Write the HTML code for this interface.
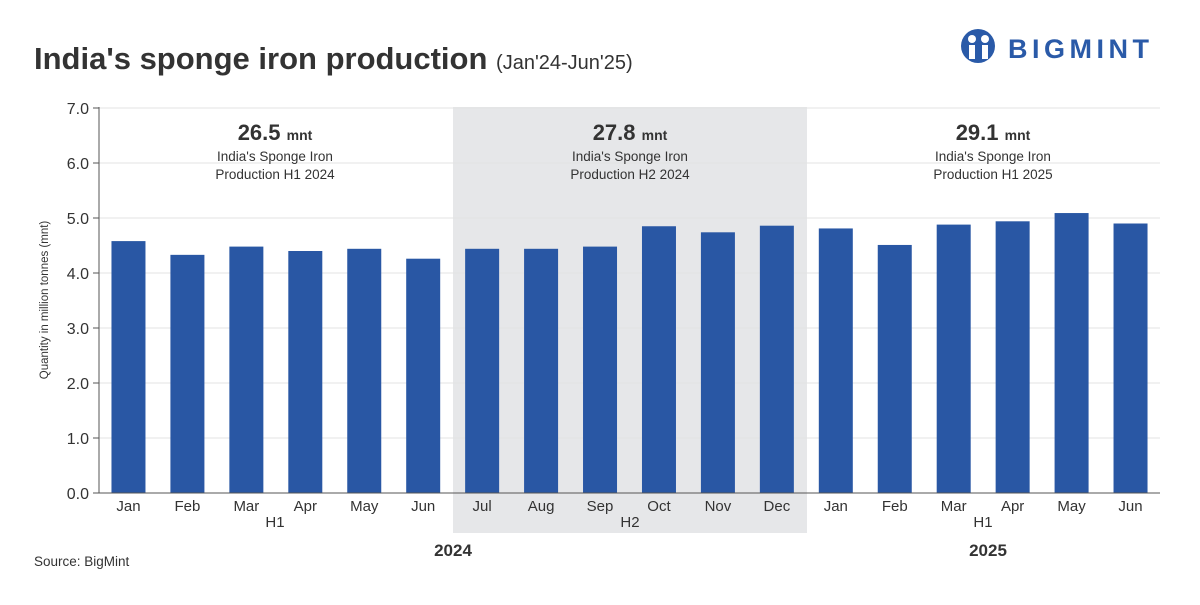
<!DOCTYPE html>
<html><head><meta charset="utf-8"><style>
body{margin:0;background:#fff;font-family:"Liberation Sans",sans-serif;}
svg text{font-family:"Liberation Sans",sans-serif;}
</style></head><body>
<svg width="1200" height="600" viewBox="0 0 1200 600">
<rect width="1200" height="600" fill="#fff"/>
<text x="34" y="69" font-size="31" font-weight="bold" fill="#333">India's sponge iron production <tspan font-size="20" font-weight="normal">(Jan'24-Jun'25)</tspan></text>
<g>
<circle cx="978" cy="46" r="17" fill="#2a5aa8"/>
<circle cx="972" cy="39" r="4" fill="#fff"/><circle cx="985" cy="39" r="4" fill="#fff"/>
<rect x="969" y="45" width="6" height="14" fill="#fff"/><rect x="982" y="45" width="6" height="14" fill="#fff"/>
<text x="1008" y="58" font-size="27" font-weight="bold" fill="#2a5aa8" letter-spacing="4.5">BIGMINT</text>
</g>
<rect x="453" y="107" width="354" height="426" fill="#e6e7e9"/>
<g id="grid"></g>
<g id="bars"></g>
<g id="labels"></g>
<line x1="99" y1="107" x2="99" y2="493" stroke="#555"/>
<line x1="99" y1="493" x2="1160" y2="493" stroke="#555"/>
<text transform="translate(48,300) rotate(-90)" text-anchor="middle" font-size="11.5" fill="#333">Quantity in million tonnes (mnt)</text>
<text x="275" y="527" text-anchor="middle" font-size="15" fill="#333">H1</text>
<text x="630" y="527" text-anchor="middle" font-size="15" fill="#333">H2</text>
<text x="983" y="527" text-anchor="middle" font-size="15" fill="#333">H1</text>
<text x="453" y="556" text-anchor="middle" font-size="17" font-weight="bold" fill="#333">2024</text>
<text x="988" y="556" text-anchor="middle" font-size="17" font-weight="bold" fill="#333">2025</text>
<text x="34" y="566" font-size="13.5" fill="#333">Source: BigMint</text>
<g>
<text x="275" y="140" text-anchor="middle" font-size="22" font-weight="bold" fill="#333">26.5 <tspan font-size="14">mnt</tspan></text>
<text x="275" y="161" text-anchor="middle" font-size="13.5" fill="#333">India's Sponge Iron</text>
<text x="275" y="179" text-anchor="middle" font-size="13.5" fill="#333">Production H1 2024</text></g>
<g>
<text x="630" y="140" text-anchor="middle" font-size="22" font-weight="bold" fill="#333">27.8 <tspan font-size="14">mnt</tspan></text>
<text x="630" y="161" text-anchor="middle" font-size="13.5" fill="#333">India's Sponge Iron</text>
<text x="630" y="179" text-anchor="middle" font-size="13.5" fill="#333">Production H2 2024</text></g>
<g>
<text x="993" y="140" text-anchor="middle" font-size="22" font-weight="bold" fill="#333">29.1 <tspan font-size="14">mnt</tspan></text>
<text x="993" y="161" text-anchor="middle" font-size="13.5" fill="#333">India's Sponge Iron</text>
<text x="993" y="179" text-anchor="middle" font-size="13.5" fill="#333">Production H1 2025</text></g>
</svg>
<script>
const months=["Jan","Feb","Mar","Apr","May","Jun","Jul","Aug","Sep","Oct","Nov","Dec","Jan","Feb","Mar","Apr","May","Jun"];
const values=[4.58,4.33,4.48,4.40,4.44,4.26,4.44,4.44,4.48,4.85,4.74,4.86,4.81,4.51,4.88,4.94,5.09,4.90];
const yTicks=[0,1,2,3,4,5,6,7];
const NS="http://www.w3.org/2000/svg";
const x0=99,x1=1160,y0=493,pxPerUnit=55;
const slot=(x1-x0)/months.length;
const yS=v=>y0-v*pxPerUnit;
const xS=i=>x0+slot*(i+0.5);
const grid=document.getElementById('grid'),bars=document.getElementById('bars'),labels=document.getElementById('labels');
function mk(t,a){const e=document.createElementNS(NS,t);for(const k in a)e.setAttribute(k,a[k]);return e;}
yTicks.forEach(v=>{
 if(v>0){const l=mk('line',{x1:x0,x2:x1,y1:yS(v),y2:yS(v),stroke:'#e3e3e3'});
 
 grid.appendChild(l);}
 const tk=mk('line',{x1:x0-6,x2:x0,y1:yS(v),y2:yS(v),stroke:'#555'});
 
 grid.appendChild(tk);
 const t=mk('text',{x:x0-10,y:yS(v)+6,'text-anchor':'end','font-size':16,fill:'#333'});
 t.textContent=v.toFixed(1);
 
 labels.appendChild(t);
});
values.forEach((v,i)=>{
 const w=34;
 const r=mk('rect',{x:xS(i)-w/2,y:yS(v),width:w,height:v*pxPerUnit,fill:'#2957a4'});
 
 bars.appendChild(r);
 const t=mk('text',{x:xS(i),y:511,'text-anchor':'middle','font-size':15,fill:'#333'});
 t.textContent=months[i];
 
 labels.appendChild(t);
});
</script>
</body></html>
